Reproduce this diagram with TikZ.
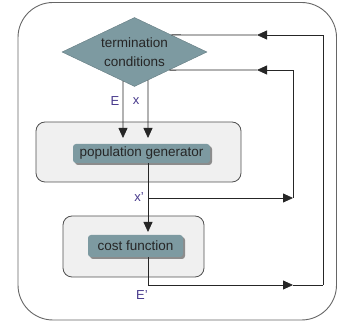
\documentclass[tikz,border=0pt]{standalone}
\usepackage{fontspec}
\setmainfont{Liberation Sans}
\usetikzlibrary{shapes.geometric,arrows.meta,shadows,calc}
\definecolor{boxTeal}{RGB}{125,154,161}
\definecolor{panelGray}{RGB}{240,240,240}
\definecolor{labelBlue}{RGB}{72,58,140}
\definecolor{lineGray}{RGB}{80,80,80}
\newcommand{\innerFont}{\fontsize{13.5}{19}\selectfont}
\newcommand{\labelFont}{\fontsize{13}{15}\selectfont}
\newcommand{\mainLine}{148}
\newcommand{\loopInner}{293}
\newcommand{\loopOuter}{323}
\newcommand{\backTip}{257}
\tikzset{
  panel/.style={draw=lineGray, fill=panelGray, rounded corners=9pt, line width=0.8pt},
  tealbox/.style={fill=boxTeal, rounded corners=3pt, inner sep=0pt, font=\innerFont, text=black!85,
    drop shadow={shadow xshift=2pt, shadow yshift=-2pt, fill=black!45, opacity=1}},
  flow/.style={draw=black!85, line width=0.8pt},
  tip/.style={-{Triangle[length=10pt,width=9pt]}},
  sig/.style={text=labelBlue, font=\labelFont, inner sep=0pt}
}

\begin{document}
\begin{tikzpicture}[x=1pt, y=-1pt]
\useasboundingbox (0,0) rectangle (338,328);
\draw[draw=black!60, line width=0.9pt, rounded corners=35pt] (18,2.5) rectangle (336.5,320);

\node[diamond, fill=boxTeal, draw=boxTeal!80!black, aspect=2.1, inner sep=0pt,
      minimum width=145pt, minimum height=69pt, align=center, font=\innerFont, text=black!85]
      (cond) at (134.5,52) {termination\\conditions};

\node[panel, minimum width=205pt, minimum height=60pt] (popPanel) at (138.5,152) {};
\node[tealbox, minimum width=137pt, minimum height=19pt] (popGen) at (141.5,153.5) {population generator};
\node[panel, minimum width=141pt, minimum height=61pt] (costPanel) at (133.5,246.5) {};
\node[tealbox, minimum width=95pt, minimum height=22pt] (costFn) at (135.5,246) {cost function};

\coordinate (mainX) at (\mainLine,0);
\coordinate (eIn) at (123,138);
\coordinate (xIn) at (\mainLine,138);
\coordinate (costIn) at (\mainLine,232);
\coordinate (xBranch) at (\mainLine,198);
\coordinate (xTurn) at (\loopInner,198);
\coordinate (xBack) at (\backTip,70);
\coordinate (eOut) at (\mainLine,285);
\coordinate (eMid) at (\loopInner,285);
\coordinate (eTurn) at (\loopOuter,285);
\coordinate (eBack) at (\backTip,35);

\draw[flow,tip] ($(cond.west)!0.841!(cond.south)$) -- (eIn);
\draw[flow,tip] ($(cond.south)!0.186!(cond.east)$) -- (xIn);
\draw[flow,tip] (popGen.south -| mainX) -- (costIn);

\draw[flow,tip] (xBranch) -- (xTurn);
\draw[flow,tip] (xTurn) |- (xBack);
\draw[flow] (xBack) -- ($(cond.east)!0.522!(cond.south)$);

\draw[flow,tip] (costFn.south -| mainX) |- (eMid);
\draw[flow] (eMid) -- (eTurn);
\draw[flow,tip] (eTurn) |- (eBack);
\draw[flow] (eBack) -- ($(cond.north)!0.507!(cond.east)$);

\node[sig] (eLabel) at (115,101) {E};
\node[sig] (xLabel) at (136,101) {x};
\node[sig] (xNewLabel) at (139,197) {x'};
\node[sig] (eNewLabel) at (142,295) {E'};
\end{tikzpicture}
\end{document}
